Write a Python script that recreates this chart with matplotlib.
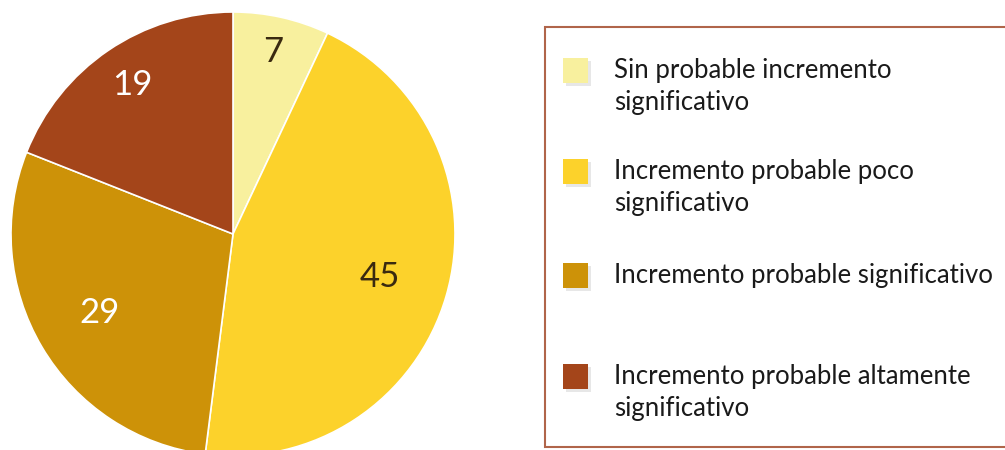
import matplotlib.pyplot as plt
from matplotlib.patches import Rectangle
import numpy as np

# data
categories = [
    "Sin probable incremento\nsignificativo",
    "Incremento probable poco\nsignificativo",
    "Incremento probable significativo",
    "Incremento probable altamente\nsignificativo",
]
values = [7, 45, 29, 19]
colors = ["#F8F09E", "#FCD22B", "#CD9208", "#A4451A"]
label_colors = ["#3a2a10", "#3a2a10", "white", "white"]
label_dist = [0.84, 0.69, 0.70, 0.81]

plt.rcParams["font.family"] = ["Lato", "DejaVu Sans"]

fig = plt.figure(figsize=(10.05, 4.5), dpi=100)
ax = fig.add_axes([0, 0, 1, 1])

# pie in pixel units (y up)
cx, cy, R = 233, 450 - 234, 222
wedges, _ = ax.pie(
    values,
    colors=colors,
    startangle=90,
    counterclock=False,
    center=(cx, cy),
    radius=R,
    wedgeprops=dict(edgecolor="white", linewidth=1.2),
)
ax.set_xlim(0, 1005)
ax.set_ylim(0, 450)
ax.set_aspect("equal")
ax.axis("off")

for w, v, c, d in zip(wedges, values, label_colors, label_dist):
    ang = np.deg2rad((w.theta1 + w.theta2) / 2)
    ax.text(cx + d * R * np.cos(ang), cy + d * R * np.sin(ang), str(v),
            ha="center", va="center", fontsize=25, color=c)

# legend box
ax.add_patch(Rectangle((545, 450 - 447), 470, 420, facecolor="white",
                       edgecolor="#B0654A", linewidth=1.5, zorder=3))
entry_y = [70, 171, 275, 376]
for name, col, y in zip(categories, colors, entry_y):
    yy = 450 - y
    ax.add_patch(Rectangle((566, yy - 16), 25, 25, facecolor="#d0d0d0",
                           edgecolor="none", alpha=0.5, zorder=4))
    ax.add_patch(Rectangle((563, yy - 12.5), 25, 25, facecolor=col,
                           edgecolor="none", zorder=5))
    ax.text(614, yy + 12, name, ha="left", va="top", fontsize=18.5,
            color="#1a1a1a", linespacing=1.33, zorder=6)

fig.savefig("out.png", dpi=100)
